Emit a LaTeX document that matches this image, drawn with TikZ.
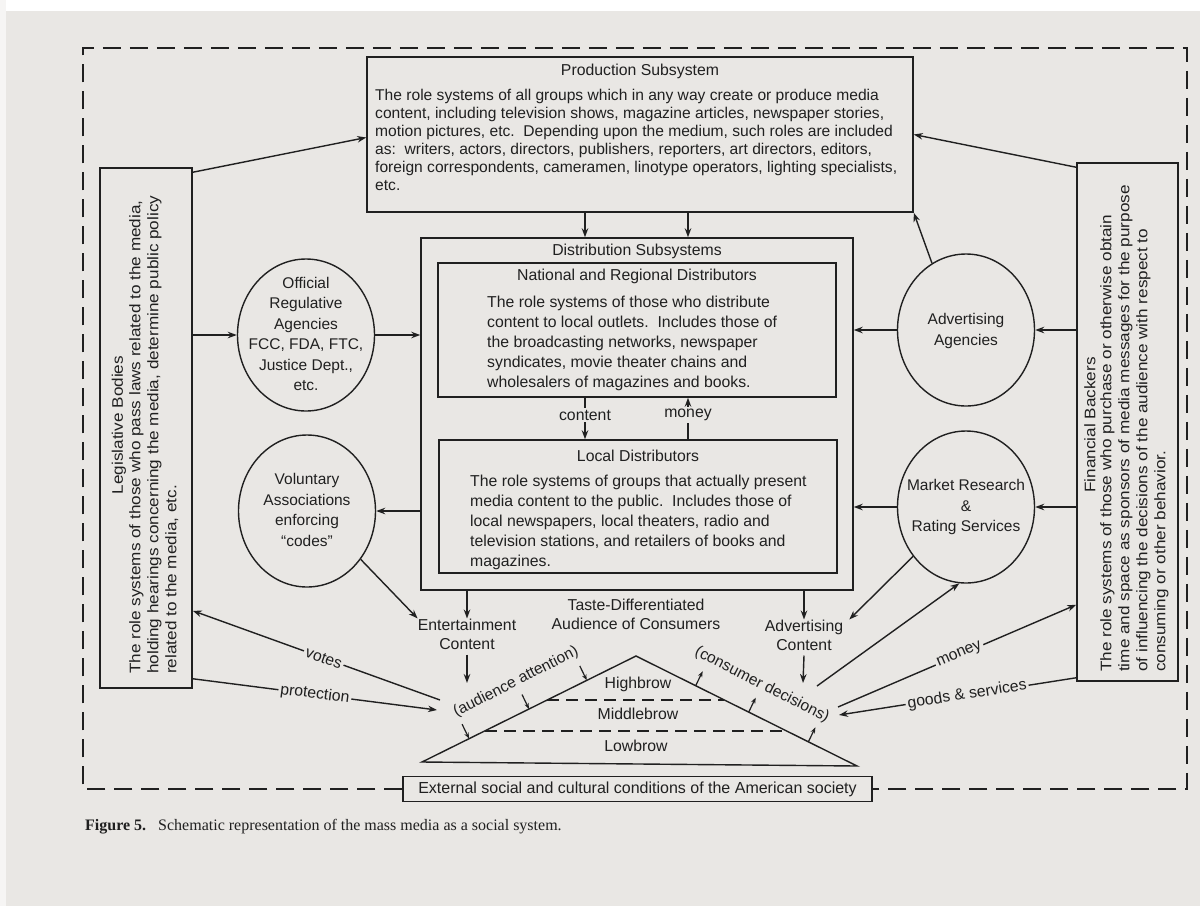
\documentclass[tikz,border=0pt]{standalone}
\usepackage{fontspec}
\setmainfont{Liberation Sans}
\newfontfamily\capfont{Liberation Serif}
\newfontfamily\sidefont[FakeStretch=1.12]{Liberation Sans}
\usetikzlibrary{arrows.meta,shapes.geometric,calc}
\definecolor{paper}{RGB}{233,231,228}
\definecolor{ink}{RGB}{32,32,32}
\newcommand{\fsz}[2]{\fontsize{#1}{#2}\selectfont}
\begin{document}
\begin{tikzpicture}[x=1pt,y=-1pt,
  every node/.style={inner sep=0pt,text=ink},
  boxs/.style={draw=ink,line width=1.5pt,rectangle},
  ell/.style={draw=ink,line width=1.4pt,ellipse,minimum width=137pt,minimum height=152pt},
  body/.style={font=\fsz{15.8}{20},align=left},
  ctr/.style={font=\fsz{15.8}{19},align=center},
  side/.style={font=\sidefont\fsz{15.3}{18},align=left},
  ctxt/.style={font=\fsz{15.5}{20.5},align=center},
  arr/.style={draw=ink,line width=1.4pt,-{Stealth[length=9pt,width=6.5pt]}},
  sarr/.style={draw=ink,line width=1.2pt,-{Stealth[length=6pt,width=4.5pt]}},
  lbl/.style={font=\fsz{15.8}{18},fill=paper,inner sep=2pt,sloped},
  outerdash/.style={draw=ink,line width=1.6pt,dash pattern=on 18pt off 9pt},
  tier/.style={draw=ink,line width=1.3pt,dash pattern=on 12pt off 7pt},
]
\useasboundingbox (0,0) rectangle (1200,906);
\fill[paper] (0,0) rectangle (1200,906);
\fill[white] (0,0) rectangle (1200,11);
\fill[white!60!paper] (0,0) rectangle (6,906);

% Production
\node[boxs,minimum width=546,minimum height=155] (prod) at (640,134.5) {};
\node[font=\fsz{15.8}{18}] (prodT) at (640,71) {Production Subsystem};
\node[body,font=\fsz{15.6}{18},anchor=north west] (prodB) at (375,89) {The role systems of all groups which in any way create or produce media\\content, including television shows, magazine articles, newspaper stories,\\motion pictures, etc.\ \ Depending upon the medium, such roles are included\\as:\ \ writers, actors, directors, publishers, reporters, art directors, editors,\\foreign correspondents, cameramen, linotype operators, lighting specialists,\\etc.};

% Distribution
\node[boxs,minimum width=432,minimum height=352] (dist) at (637,414) {};
\node[font=\fsz{15.8}{18}] (distT) at (637,251) {Distribution Subsystems};
\node[boxs,minimum width=398,minimum height=134] (nat) at (637,330) {};
\node[font=\fsz{15.8}{18}] (natT) at (637,276) {National and Regional Distributors};
\node[body,anchor=north west] (natB) at (487,295.5) {The role systems of those who distribute\\content to local outlets.\ \ Includes those of\\the broadcasting networks, newspaper\\syndicates, movie theater chains and\\wholesalers of magazines and books.};
\node[boxs,minimum width=398,minimum height=133] (loc) at (638,506.5) {};
\node[font=\fsz{15.8}{18}] (locT) at (638,456) {Local Distributors};
\node[body,anchor=north west] (locB) at (470,474.5) {The role systems of groups that actually present\\media content to the public.\ \ Includes those of\\local newspapers, local theaters, radio and\\television stations, and retailers of books and\\magazines.};

\coordinate (colA) at (585,0);
\coordinate (colB) at (688,0);
\draw[arr] (prod.south -| colA) -- (dist.north -| colA);
\draw[arr] (prod.south -| colB) -- (dist.north -| colB);
\draw[arr] (nat.south -| colA) -- node[pos=0.42,font=\fsz{15.8}{18},fill=paper,inner sep=2pt] (cont) {content} (loc.north -| colA);
\draw[arr] (loc.north -| colB) -- node[pos=0.58,font=\fsz{15.8}{18},fill=paper,inner sep=2pt] (mon) {money} (nat.south -| colB);

% Circles
\node[ell] (off) at (306,335) {};
\node[ctxt] (offT) at (306,334) {Official\\Regulative\\Agencies\\FCC, FDA, FTC,\\Justice Dept.,\\etc.};
\node[ell] (vol) at (307,511) {};
\node[ctxt] (volT) at (307,510) {Voluntary\\Associations\\enforcing\\``codes''};
\node[ell] (adv) at (966,330) {};
\node[ctxt] (advT) at (966,331) {Advertising\\Agencies};
\node[ell] (mkt) at (966,507) {};
\node[ctxt] (mktT) at (966,507) {Market Research\\\&\\Rating Services};

% Side boxes
\node[boxs,minimum width=92,minimum height=520] (leg) at (146,428) {};
\node[font=\sidefont\fsz{15.3}{18},rotate=90] (legT) at (119,425) {Legislative Bodies};
\node[side,rotate=90,anchor=north west] (legB) at (129,674) {The role systems of those who pass laws related to the media,\\holding hearings concerning the media, determine public policy\\related to the media, etc.};
\node[boxs,minimum width=101,minimum height=518] (fin) at (1127.5,422) {};
\node[font=\sidefont\fsz{15.3}{18},rotate=90] (finT) at (1090,425) {Financial Backers};
\node[side,rotate=90,anchor=north west] (finB) at (1100,672) {The role systems of those who purchase or otherwise obtain\\time and space as sponsors of media messages for the purpose\\of influencing the decisions of the audience with respect to\\consuming or other behavior.};

% Upper connectors
\draw[arr] ([yshift=-5]leg.north east) -- ([yshift=-3]prod.west);
\draw[arr] ([yshift=-5]fin.north west) -- (prod.east);
\draw[arr] (off.west -| leg.east) -- (off.west);
\draw[arr] (off.east) -- (off.east -| dist.west);
\draw[arr] (vol.east -| dist.west) -- (vol.east);
\draw[arr] (adv.east -| fin.west) -- (adv.east);
\draw[arr] (adv.west) -- (adv.west -| dist.east);
\draw[arr] (mkt.east -| fin.west) -- (mkt.east);
\draw[arr] (mkt.west) -- (mkt.west -| dist.east);
\draw[arr] (adv.117) -- (prod.south east);

% Audience
\coordinate (triL) at (422,762);
\coordinate (triA) at (636,656);
\coordinate (triR) at (857,766);
\draw[draw=ink,line width=1.4pt] (triL) -- (triA) -- (triR) -- cycle;
\draw[tier] (547,700) -- (724,700);
\draw[tier] (485,731) -- (787,731);
\node[ctr] (aud) at (636,614) {Taste-Differentiated\\Audience of Consumers};
\node[font=\fsz{15.8}{18}] (high) at (638,684) {Highbrow};
\node[font=\fsz{15.8}{18}] (mid) at (638,714) {Middlebrow};
\node[font=\fsz{15.8}{18}] (low) at (636,746) {Lowbrow};
\node[ctr] (ent) at (467,634) {Entertainment\\Content};
\node[ctr] (adc) at (804,635) {Advertising\\Content};
\node[font=\fsz{15.6}{18},rotate=27] (att) at (516,682) {(audience attention)};
\node[font=\fsz{15.6}{18},rotate=-27] (cdec) at (762,685) {(consumer decisions)};

\coordinate (aa1) at ($(triL)!0.22!(triA)$);
\coordinate (aa2) at ($(triL)!0.5!(triA)$);
\coordinate (aa3) at ($(triL)!0.77!(triA)$);
\draw[sarr] ($(aa1)+(-7,-14.5)$) -- (aa1);
\draw[sarr] ($(aa2)+(-7,-14.5)$) -- (aa2);
\draw[sarr] ($(aa3)+(-7,-14.5)$) -- (aa3);
\coordinate (cd1) at ($(triA)!0.27!(triR)$);
\coordinate (cd2) at ($(triA)!0.51!(triR)$);
\coordinate (cd3) at ($(triA)!0.78!(triR)$);
\draw[sarr] (cd1) -- ($(cd1)+(7,-14.5)$);
\draw[sarr] (cd2) -- ($(cd2)+(7,-14.5)$);
\draw[sarr] (cd3) -- ($(cd3)+(7,-14.5)$);

\coordinate (votesS) at (440,700);
\coordinate (protE) at (437,710);
\coordinate (moneyS) at (838,707);
\coordinate (gsE) at (839,715);
\coordinate (entE) at (467,683);
\coordinate (adcE) at (803,683);
\coordinate (mktS) at (817,686);

\draw[arr] (votesS) -- node[lbl,pos=0.47] (votes) {votes} ([yshift=78]leg.south east);
\draw[arr] ([yshift=10]leg.south east) -- node[lbl,pos=0.5] (prot) {protection} (protE);
\draw[arr] (moneyS) -- node[lbl,pos=0.51] (money) {money} ([yshift=77]fin.south west);
\draw[arr] ([yshift=4]fin.south west) -- node[lbl,pos=0.46] (goods) {goods \& services} (gsE);
\draw[arr] (mktS) -- (mkt.-95);
\draw[arr] (mkt.-137) -- ([xshift=6]adc.north east);
\draw[arr] (vol.-42) -- (ent.north west);
\draw[arr] (dist.south -| ent.north) -- (ent.north);
\draw[arr] ([yshift=-5]ent.south) -- (entE);
\draw[arr] (dist.south -| adc.north) -- (adc.north);
\draw[arr] ([yshift=-5]adc.south) -- (adcE);

% Frame and external conditions
\node[boxs,fill=paper,minimum width=469,minimum height=25,font=\fsz{16}{18}] (ext) at (637.5,789) {External social and cultural conditions of the American society};
\draw[outerdash] (ext.west) -| (83,48) -| (1187,789) -- (ext.east);

% Caption
\node[anchor=base west,font=\capfont\fsz{16}{18}] (cap) at (85,830) {\textbf{Figure 5.}\ \ \ Schematic representation of the mass media as a social system.};
\end{tikzpicture}
\end{document}
